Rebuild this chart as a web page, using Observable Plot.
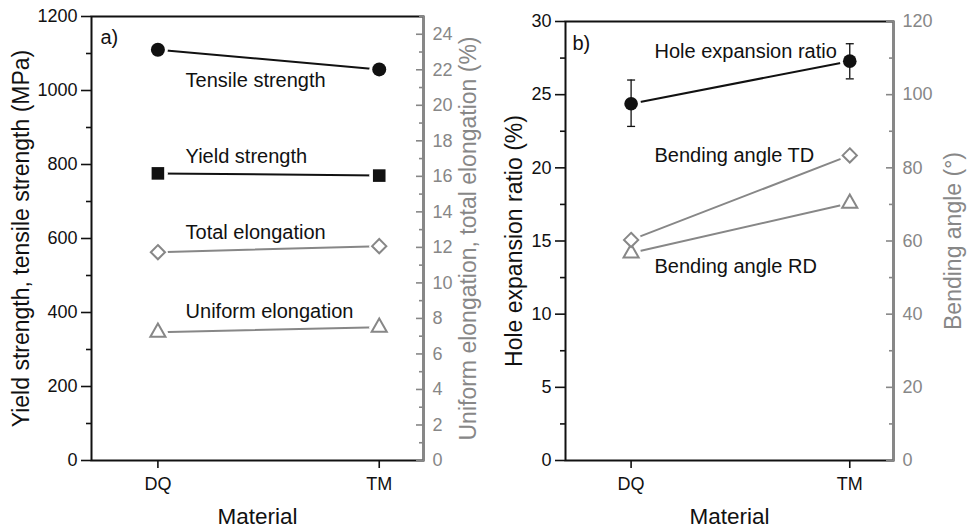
<!DOCTYPE html>
<html><head><meta charset="utf-8">
<script src="https://cdn.jsdelivr.net/npm/d3@7"></script>
<script src="https://cdn.jsdelivr.net/npm/@observablehq/plot@0.6"></script>
<style>
body{margin:0;background:#fff;}
#wrap{position:relative;width:970px;height:529px;overflow:hidden;}
#pa,#pb{position:absolute;top:0;}
#pa{left:0}#pb{left:485px}
svg{font-family:"Liberation Sans",Arial,sans-serif;}
</style></head><body><div id="wrap"><div id="pa"></div><div id="pb"></div></div>
<script>
// ---------- data ----------
const materials = ["DQ", "TM"];
const materialPos = [1, 2];

// panel a (left axis, MPa)
const tensileStrength = [1110, 1057];
const yieldStrength = [776, 770];
// panel a (right axis, %)
const totalElongation = [11.73, 12.07];
const uniformElongation = [7.22, 7.5];

// panel b (left axis, %)
const holeExpansion = [24.38, 27.29];
const holeExpansionLow = [22.83, 26.08];
const holeExpansionHigh = [26.0, 28.48];
// panel b (right axis, degrees)
const bendingTD = [60.3, 83.4];
const bendingRD = [56.7, 70.3];

// ticks
const aLeftMajor = [0, 200, 400, 600, 800, 1000, 1200];
const aLeftMinor = [100, 300, 500, 700, 900, 1100];
const aRightMajor = [0, 2, 4, 6, 8, 10, 12, 14, 16, 18, 20, 22, 24];
const aRightMinor = [1, 3, 5, 7, 9, 11, 13, 15, 17, 19, 21, 23, 25];
const bLeftMajor = [0, 5, 10, 15, 20, 25, 30];
const bLeftMinor = [2.5, 7.5, 12.5, 17.5, 22.5, 27.5];
const bRightMajor = [0, 20, 40, 60, 80, 100, 120];
const bRightMinor = [10, 30, 50, 70, 90, 110];

// series labels (data units)
const aLabels = [
  {x: 1.125, y: 1010, t: "Tensile strength"},
  {x: 1.125, y: 805, t: "Yield strength"},
  {x: 1.125, y: 600, t: "Total elongation"},
  {x: 1.125, y: 384, t: "Uniform elongation"}
];
const bLabels = [
  {x: 1.107, y: 27.5, t: "Hole expansion ratio"},
  {x: 1.107, y: 20.43, t: "Bending angle TD"},
  {x: 1.107, y: 12.8, t: "Bending angle RD"}
];

// ---------- helpers ----------
const black = "#111";
const gray = "#878787";
const xDomain = [0.7, 2.2];
const pts = (vals, k = 1) => materialPos.map((x, i) => ({x, y: vals[i] * k}));
const capSymbol = {draw(ctx, size) { const w = Math.sqrt(size / Math.PI); ctx.moveTo(-w, 0); ctx.lineTo(w, 0); }};

function panel(o) {
  const k = o.yMax / o.rMax;
  const black1 = o.blackSeries, gray1 = o.graySeries;
  const all = [...black1, ...gray1].flatMap(s => s.data);
  const marks = [
    Plot.frame({stroke: black, strokeWidth: 2}),
    Plot.ruleX([xDomain[1]], {stroke: gray, strokeWidth: 2}),
    // left axis
    Plot.axisY({ticks: o.leftMajor, tickSize: 10, tickPadding: 4, fontSize: 18, color: black, strokeWidth: 1.6, tickFormat: d => String(d), label: null}),
    Plot.axisY({ticks: o.leftMinor, tickSize: 5, text: null, color: black, strokeWidth: 1.6, label: null}),
    // right axis (scaled onto left scale)
    Plot.axisY({anchor: "right", ticks: o.rightMajor.map(v => v * k), tickSize: 8, dx: -8, text: null, color: gray, strokeWidth: 1.6, label: null}),
    Plot.axisY({anchor: "right", ticks: o.rightMinor.map(v => v * k), tickSize: 5, dx: -5, text: null, color: gray, strokeWidth: 1.6, label: null}),
    Plot.axisY({anchor: "right", ticks: o.rightMajor.map(v => v * k), tickSize: 0, tickPadding: 9, fontSize: 18, color: gray, tickFormat: d => String(Math.round(d / k)), label: null}),
    // x axis
    Plot.axisX({ticks: materialPos, tickSize: 8, tickPadding: 9, fontSize: 18, color: black, strokeWidth: 1.6, tickFormat: d => materials[d - 1], label: null}),
    // lines
    ...black1.map(s => Plot.line(s.data, {x: "x", y: "y", stroke: black, strokeWidth: 2})),
    ...gray1.map(s => Plot.line(s.data, {x: "x", y: "y", stroke: gray, strokeWidth: 2})),
    // halos (gap between line and marker)
    Plot.dot(all, {x: "x", y: "y", r: 10, fill: "white"}),
  ];
  if (o.err) {
    marks.push(
      Plot.ruleX(o.err, {x: "x", y1: "lo", y2: "hi", stroke: black, strokeWidth: 1.3}),
      Plot.dot(o.err, {x: "x", y: "lo", r: 4, symbol: capSymbol, stroke: black, strokeWidth: 1.3}),
      Plot.dot(o.err, {x: "x", y: "hi", r: 4, symbol: capSymbol, stroke: black, strokeWidth: 1.3})
    );
  }
  marks.push(
    ...gray1.map(s => Plot.dot(s.data, {x: "x", y: "y", r: s.r, symbol: s.symbol, stroke: gray, fill: "white", strokeWidth: 2})),
    ...black1.map(s => Plot.dot(s.data, {x: "x", y: "y", r: s.r, symbol: s.symbol, fill: black, stroke: null})),
    Plot.text(o.labels, {x: "x", y: "y", text: "t", textAnchor: "start", lineAnchor: "bottom", fontSize: 20, fill: black}),
    Plot.text([o.panelLabel], {frameAnchor: "top-left", dx: o.panelDx, dy: o.panelDy, textAnchor: "start", lineAnchor: "bottom", fontSize: 20, fill: black}),
    Plot.text([o.leftTitle], {frameAnchor: "left", rotate: -90, dx: o.leftTitleDx, textAnchor: "middle", lineAnchor: "middle", fontSize: 23, fill: black}),
    Plot.text([o.rightTitle], {frameAnchor: "right", rotate: -90, dx: o.rightTitleDx, textAnchor: "middle", lineAnchor: "middle", fontSize: 23, fill: gray}),
    Plot.text(["Material"], {frameAnchor: "bottom", dy: 63, textAnchor: "middle", lineAnchor: "bottom", fontSize: 22.5, fill: black})
  );
  return Plot.plot({
    width: 485, height: 529,
    marginLeft: o.marginLeft, marginRight: o.marginRight, marginTop: o.marginTop, marginBottom: 69,
    x: {domain: xDomain},
    y: {domain: [0, o.yMax]},
    style: {fontFamily: '"Liberation Sans", Arial, sans-serif', background: "white", overflow: "visible"},
    marks
  });
}

const kA = 1200 / 25, kB = 30 / 120;
document.getElementById("pa").append(panel({
  marginLeft: 91, marginRight: 62, marginTop: 16,
  yMax: 1200, rMax: 25,
  leftMajor: aLeftMajor, leftMinor: aLeftMinor, rightMajor: aRightMajor, rightMinor: aRightMinor,
  blackSeries: [
    {data: pts(tensileStrength), symbol: "circle", r: 7},
    {data: pts(yieldStrength), symbol: "square", r: 7.1}
  ],
  graySeries: [
    {data: pts(totalElongation, kA), symbol: "diamond2", r: 6.4},
    {data: pts(uniformElongation, kA), symbol: "triangle2", r: 7.2}
  ],
  labels: aLabels,
  panelLabel: "a)", panelDx: 9, panelDy: 27,
  leftTitle: "Yield strength, tensile strength (MPa)", leftTitleDx: -70,
  rightTitle: "Uniform elongation, total elongation (%)", rightTitleDx: 45
}));

document.getElementById("pb").append(panel({
  marginLeft: 80, marginRight: 77, marginTop: 21,
  yMax: 30, rMax: 120,
  leftMajor: bLeftMajor, leftMinor: bLeftMinor, rightMajor: bRightMajor, rightMinor: bRightMinor,
  blackSeries: [
    {data: pts(holeExpansion), symbol: "circle", r: 6.8}
  ],
  graySeries: [
    {data: pts(bendingRD, kB), symbol: "triangle2", r: 7.2},
    {data: pts(bendingTD, kB), symbol: "diamond2", r: 6.4}
  ],
  err: materialPos.map((x, i) => ({x, lo: holeExpansionLow[i], hi: holeExpansionHigh[i]})),
  labels: bLabels,
  panelLabel: "b)", panelDx: 7, panelDy: 28,
  leftTitle: "Hole expansion ratio (%)", leftTitleDx: -51,
  rightTitle: "Bending angle (°)", rightTitleDx: 60
}));
</script>
</body></html>
